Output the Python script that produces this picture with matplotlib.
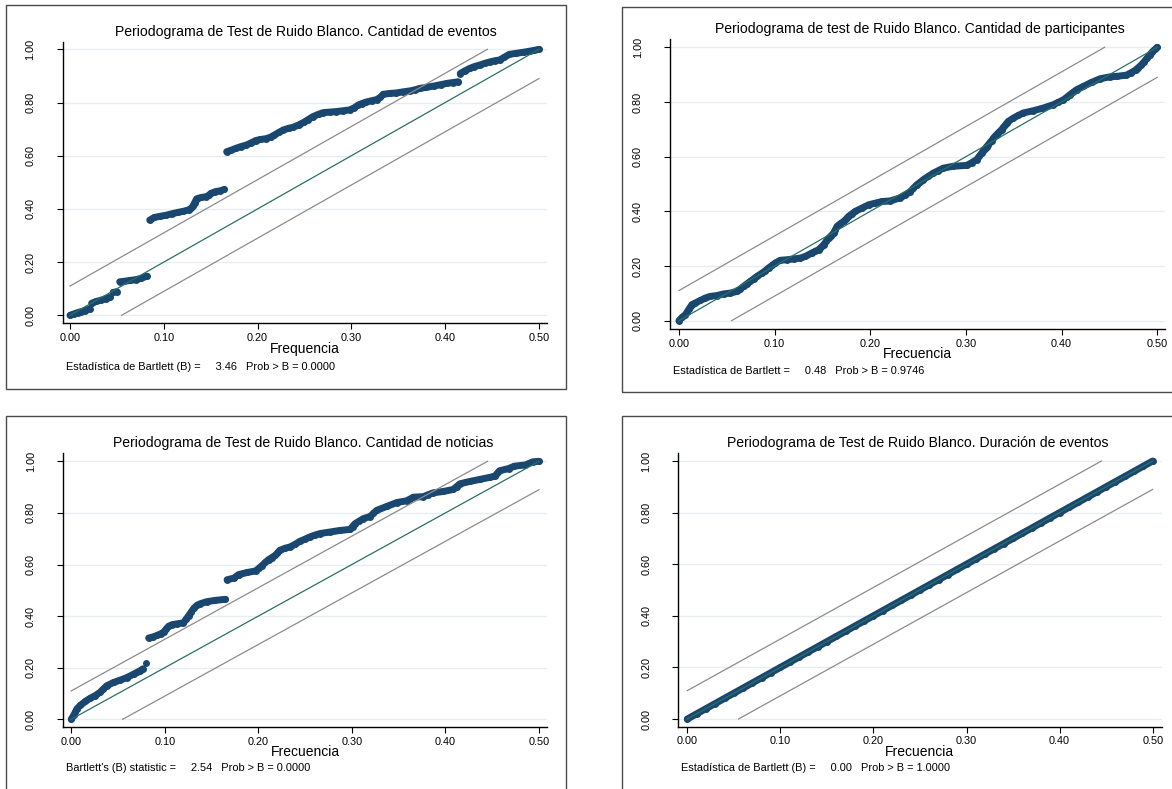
import matplotlib
matplotlib.use("Agg")
import matplotlib.pyplot as plt
from matplotlib.patches import Rectangle

W, H, DPI = 1172, 789, 100
plt.rcParams['font.family'] = ['Liberation Sans', 'DejaVu Sans']

# ---------------- data ----------------
freq_ticks = [0.0, 0.1, 0.2, 0.3, 0.4, 0.5]
cum_ticks = [0.0, 0.2, 0.4, 0.6, 0.8, 1.0]
band_offset = 0.11   # half-width of the 95% band

events_x = [0.000, 0.004, 0.008, 0.012, 0.016, 0.021,
            0.023, 0.028, 0.033, 0.038, 0.043,
            0.046, 0.050,
            0.053, 0.058, 0.064, 0.070, 0.076, 0.082,
            0.085, 0.090, 0.096, 0.102, 0.109, 0.115, 0.121, 0.127, 0.129, 0.131,
            0.133, 0.135, 0.140, 0.145, 0.148, 0.150, 0.155, 0.160, 0.1645,
            0.167, 0.172, 0.177, 0.182, 0.188, 0.193, 0.198, 0.203, 0.209, 0.214,
            0.218, 0.223, 0.2275, 0.233, 0.238, 0.244, 0.249, 0.254, 0.259, 0.265,
            0.270, 0.277, 0.284, 0.291, 0.298, 0.303, 0.307, 0.311, 0.316, 0.322,
            0.327, 0.331, 0.334, 0.341, 0.348, 0.355, 0.363, 0.368, 0.373, 0.380,
            0.388, 0.395, 0.402, 0.408, 0.414,
            0.416, 0.421, 0.426, 0.431, 0.437, 0.442, 0.448, 0.453, 0.458, 0.463,
            0.4685, 0.476, 0.4835, 0.490, 0.495, 0.500]
events_y = [0.000, 0.005, 0.010, 0.014, 0.018, 0.024,
            0.045, 0.052, 0.057, 0.062, 0.068,
            0.086, 0.089,
            0.126, 0.128, 0.131, 0.134, 0.139, 0.147,
            0.358, 0.368, 0.372, 0.376, 0.382, 0.387, 0.391, 0.397, 0.402, 0.410,
            0.424, 0.438, 0.443, 0.446, 0.451, 0.458, 0.465, 0.468, 0.473,
            0.615, 0.621, 0.628, 0.634, 0.640, 0.648, 0.657, 0.661, 0.664, 0.670,
            0.678, 0.688, 0.697, 0.703, 0.707, 0.716, 0.725, 0.736, 0.747, 0.756,
            0.762, 0.764, 0.766, 0.769, 0.772, 0.780, 0.790, 0.796, 0.802, 0.807,
            0.811, 0.820, 0.831, 0.834, 0.836, 0.840, 0.844, 0.848, 0.853, 0.857,
            0.862, 0.867, 0.872, 0.875, 0.878,
            0.909, 0.919, 0.928, 0.935, 0.941, 0.947, 0.953, 0.957, 0.960, 0.970,
            0.981, 0.985, 0.989, 0.993, 0.996, 1.000]

partic_x = [0.000, 0.0032, 0.0067, 0.0085, 0.0102, 0.012, 0.0137, 0.0172, 0.0224, 0.0276,
            0.0329, 0.0398, 0.0468, 0.0537, 0.0607, 0.0642, 0.0677, 0.0712, 0.0747, 0.0782,
            0.0816, 0.0869, 0.0904, 0.0938, 0.0973, 0.1008, 0.106, 0.113, 0.120, 0.127,
            0.1322, 0.1391, 0.1426, 0.1461, 0.1487, 0.1513, 0.154, 0.1566, 0.1592, 0.1618,
            0.1636, 0.1653, 0.1688, 0.1722, 0.1749, 0.1775, 0.181, 0.1844, 0.1914, 0.1984,
            0.2053, 0.2123, 0.2207, 0.2311, 0.2364, 0.2416, 0.2451, 0.2486, 0.2521, 0.2555,
            0.2608, 0.266, 0.2712, 0.2764, 0.2869, 0.3009, 0.3061, 0.3112, 0.3139, 0.3165,
            0.3183, 0.3200, 0.3218, 0.3235, 0.3253, 0.327, 0.3287, 0.3304, 0.3322, 0.3339,
            0.3357, 0.3374, 0.3392, 0.3409, 0.3426, 0.3444, 0.3496, 0.3549, 0.3601, 0.3705,
            0.381, 0.3914, 0.3967, 0.4019, 0.4054, 0.4089, 0.4124, 0.4158, 0.4228, 0.4315,
            0.4403, 0.4506, 0.4581, 0.4678, 0.4727, 0.4775, 0.4804, 0.4833, 0.4863, 0.4892,
            0.4921, 0.495, 0.4975, 0.500]
partic_y = [0.000, 0.012, 0.022, 0.031, 0.041, 0.050, 0.059, 0.065, 0.074, 0.083,
            0.089, 0.092, 0.098, 0.101, 0.107, 0.115, 0.126, 0.135, 0.144, 0.153,
            0.162, 0.174, 0.183, 0.193, 0.202, 0.211, 0.221, 0.223, 0.226, 0.229,
            0.235, 0.248, 0.254, 0.260, 0.268, 0.278, 0.290, 0.302, 0.311, 0.321,
            0.333, 0.345, 0.355, 0.363, 0.372, 0.382, 0.391, 0.400, 0.412, 0.424,
            0.430, 0.436, 0.438, 0.449, 0.459, 0.471, 0.484, 0.497, 0.506, 0.516,
            0.528, 0.540, 0.549, 0.558, 0.565, 0.568, 0.578, 0.589, 0.601, 0.613,
            0.621, 0.629, 0.637, 0.644, 0.652, 0.659, 0.667, 0.674, 0.681, 0.687,
            0.693, 0.699, 0.707, 0.714, 0.722, 0.729, 0.741, 0.751, 0.760, 0.768,
            0.778, 0.790, 0.799, 0.808, 0.817, 0.827, 0.836, 0.845, 0.857, 0.872,
            0.885, 0.892, 0.894, 0.898, 0.907, 0.917, 0.926, 0.935, 0.947, 0.960,
            0.972, 0.984, 0.992, 1.000]

news_x = [0.000, 0.0026, 0.0044, 0.0062, 0.0098, 0.015, 0.0205, 0.0258, 0.031, 0.0345,
          0.038, 0.0454, 0.0525, 0.0596, 0.0668, 0.0705, 0.0739, 0.0768,
          0.080,
          0.0828, 0.0870, 0.0917, 0.0955, 0.0988, 0.1015, 0.1042, 0.108, 0.113, 0.120,
          0.1228, 0.1256, 0.1283, 0.131, 0.1345, 0.138, 0.145, 0.154, 0.1648,
          0.1666, 0.1737, 0.179, 0.188, 0.197, 0.2005, 0.204, 0.2075, 0.211, 0.2145,
          0.218, 0.2205, 0.223, 0.2285, 0.2339, 0.2392, 0.2445, 0.2498, 0.2552, 0.2605,
          0.2659, 0.2766, 0.2873, 0.298, 0.3007, 0.3033, 0.3078, 0.3123, 0.3194, 0.323,
          0.3266, 0.3372, 0.3479, 0.3586, 0.3622, 0.3657, 0.3764, 0.3818, 0.3871, 0.3977,
          0.4084, 0.412, 0.4156, 0.4263, 0.437, 0.4477, 0.4531, 0.4555, 0.4577, 0.4676,
          0.4736, 0.4855, 0.4934, 0.500]
news_y = [0.000, 0.015, 0.028, 0.041, 0.054, 0.069, 0.082, 0.092, 0.105, 0.118,
          0.130, 0.143, 0.152, 0.162, 0.175, 0.182, 0.189, 0.196,
          0.218,
          0.315, 0.319, 0.325, 0.331, 0.338, 0.350, 0.361, 0.367, 0.370, 0.374,
          0.388, 0.402, 0.416, 0.430, 0.442, 0.448, 0.456, 0.461, 0.465,
          0.541, 0.547, 0.561, 0.569, 0.575, 0.585, 0.596, 0.608, 0.619, 0.627,
          0.635, 0.645, 0.655, 0.663, 0.668, 0.678, 0.690, 0.698, 0.707, 0.714,
          0.720, 0.726, 0.732, 0.736, 0.747, 0.758, 0.768, 0.778, 0.786, 0.798,
          0.810, 0.825, 0.840, 0.847, 0.854, 0.861, 0.863, 0.871, 0.878, 0.883,
          0.891, 0.902, 0.913, 0.922, 0.930, 0.938, 0.943, 0.953, 0.963, 0.972,
          0.981, 0.986, 0.998, 1.000]

dur_x = [0.00, 0.01, 0.02, 0.03, 0.04, 0.05, 0.06, 0.07, 0.08, 0.09,
         0.10, 0.11, 0.12, 0.13, 0.14, 0.15, 0.16, 0.17, 0.18, 0.19,
         0.20, 0.21, 0.22, 0.23, 0.24, 0.25, 0.26, 0.27, 0.28, 0.29,
         0.30, 0.31, 0.32, 0.33, 0.34, 0.35, 0.36, 0.37, 0.38, 0.39,
         0.40, 0.41, 0.42, 0.43, 0.44, 0.45, 0.46, 0.47, 0.48, 0.49, 0.50]
dur_y = [0.00, 0.02, 0.04, 0.06, 0.08, 0.10, 0.12, 0.14, 0.16, 0.18,
         0.20, 0.22, 0.24, 0.26, 0.28, 0.30, 0.32, 0.34, 0.36, 0.38,
         0.40, 0.42, 0.44, 0.46, 0.48, 0.50, 0.52, 0.54, 0.56, 0.58,
         0.60, 0.62, 0.64, 0.66, 0.68, 0.70, 0.72, 0.74, 0.76, 0.78,
         0.80, 0.82, 0.84, 0.86, 0.88, 0.90, 0.92, 0.94, 0.96, 0.98, 1.00]

titles = ["Periodograma de Test de Ruido Blanco. Cantidad de eventos",
          "Periodograma de test de Ruido Blanco. Cantidad de participantes",
          "Periodograma de Test de Ruido Blanco. Cantidad de noticias",
          "Periodograma de Test de Ruido Blanco. Duración de eventos"]
xlabels = ["Frequencia", "Frecuencia", "Frecuencia", "Frecuencia"]
stat_labels = ["Estadística de Bartlett (B) =", "Estadística de Bartlett =",
               "Bartlett's (B) statistic =", "Estadística de Bartlett (B) ="]
stat_values = [3.46, 0.48, 2.54, 0.00]
prob_values = [0.0000, 0.9746, 0.0000, 1.0000]

series = [(events_x, events_y), (partic_x, partic_y), (news_x, news_y), (dur_x, dur_y)]

# ---------------- layout (pixel geometry) ----------------
layout = [
    dict(box=(5.5, 5, 566, 389), ax=(62.5, 41.7, 546.8, 323.3), anc=(70.0, 539.0, 315.3, 49.3),
         title=(306, 31.7), xlab=(305, 349.3), note=(65.5, 366.7)),
    dict(box=(621.6, 7.3, 1180, 392), ax=(670.0, 39.3, 1165.4, 329.3), anc=(678.9, 1157.2, 320.7, 47.3),
         title=(919.5, 29.3), xlab=(917.8, 354.3), note=(672.8, 371.0)),
    dict(box=(5.5, 416, 566, 800), ax=(63.0, 453.3, 546.8, 727.3), anc=(71.2, 539.0, 719.3, 461.3),
         title=(303, 443.3), xlab=(305, 751.7), note=(65.5, 768.3)),
    dict(box=(622.3, 416, 1180, 800), ax=(678.3, 453.3, 1161.6, 726.7), anc=(687.3, 1152.7, 719.0, 461.0),
         title=(917.6, 443.3), xlab=(919.6, 751.7), note=(681.0, 768.3)),
]

NAVY = "#1a476f"
TEAL = "#2a7163"
GRAY = "#8c8c8c"
GRID = "#e6eef1"
BAND_W = 5.0

fig = plt.figure(figsize=(W / DPI, H / DPI), dpi=DPI)
fig.patch.set_facecolor("white")


def fxp(px):
    return px / W


def fyp(py):
    return 1 - py / H


def segments(xs, ys):
    segs, cur = [], [(xs[0], ys[0])]
    for i in range(1, len(xs)):
        dx = xs[i] - xs[i - 1]
        dy = ys[i] - ys[i - 1]
        if dy > 0.016 and dy > 4 * max(dx, 1e-9):
            segs.append(cur)
            cur = []
        cur.append((xs[i], ys[i]))
    segs.append(cur)
    return segs


for k, L in enumerate(layout):
    bl, bt, br, bb = L["box"]
    fig.patches.append(Rectangle((fxp(bl), fyp(bb)), (br - bl) / W, (bb - bt) / H,
                                 transform=fig.transFigure, fill=False,
                                 edgecolor="#4a4a4a", lw=1.0))
    al, at, ar, ab = L["ax"]
    ax = fig.add_axes([fxp(al), fyp(ab), (ar - al) / W, (ab - at) / H])
    x0p, x5p, y0p, y1p = L["anc"]
    sx = (x5p - x0p) / 0.5
    sy = (y0p - y1p) / 1.0
    ax.set_xlim((al - x0p) / sx, (ar - x0p) / sx)
    ax.set_ylim(-(ab - y0p) / sy, 1 + (y1p - at) / sy)

    for s in ("top", "right"):
        ax.spines[s].set_visible(False)
    for s in ("left", "bottom"):
        ax.spines[s].set_color("black")
        ax.spines[s].set_linewidth(1.0)
    ax.set_xticks(freq_ticks)
    ax.set_xticklabels([f"{v:.2f}" for v in freq_ticks])
    ax.set_yticks(cum_ticks)
    ax.set_yticklabels([f"{v:.2f}" for v in cum_ticks], rotation=90, va="center", ha="center")
    ax.tick_params(direction="out", length=4, width=0.8, labelsize=7.8, colors="black")
    ax.tick_params(axis="x", pad=3)
    ax.tick_params(axis="y", pad=19)
    ax.yaxis.grid(True, color=GRID, lw=1.0)
    ax.set_axisbelow(True)

    xs, ys = series[k]
    for seg in segments(xs, ys):
        sxs = [p[0] for p in seg]
        sys_ = [p[1] for p in seg]
        if len(seg) > 1:
            ax.plot(sxs, sys_, "-", color=NAVY, lw=BAND_W, solid_capstyle="round",
                    solid_joinstyle="round", zorder=2)
        ax.plot(sxs, sys_, "o", color=NAVY, ms=BAND_W, mec=NAVY, mew=0, zorder=2)

    c = band_offset
    ax.plot([0, 0.5], [0, 1], color=TEAL, lw=0.9, zorder=3)
    ax.plot([0, 0.5 - c / 2], [c, 1], color=GRAY, lw=0.9, zorder=3)
    ax.plot([c / 2, 0.5], [0, 1 - c], color=GRAY, lw=0.9, zorder=3)

    tx, ty = L["title"]
    fig.text(fxp(tx), fyp(ty), titles[k], ha="center", va="center", fontsize=10.1)
    lx, ly = L["xlab"]
    fig.text(fxp(lx), fyp(ly), xlabels[k], ha="center", va="center", fontsize=10.0)
    nx, ny = L["note"]
    note = f"{stat_labels[k]}     {stat_values[k]:.2f}   Prob > B = {prob_values[k]:.4f}"
    fig.text(fxp(nx), fyp(ny), note, ha="left", va="center", fontsize=7.9)

fig.savefig("out.png", dpi=DPI, facecolor="white")
